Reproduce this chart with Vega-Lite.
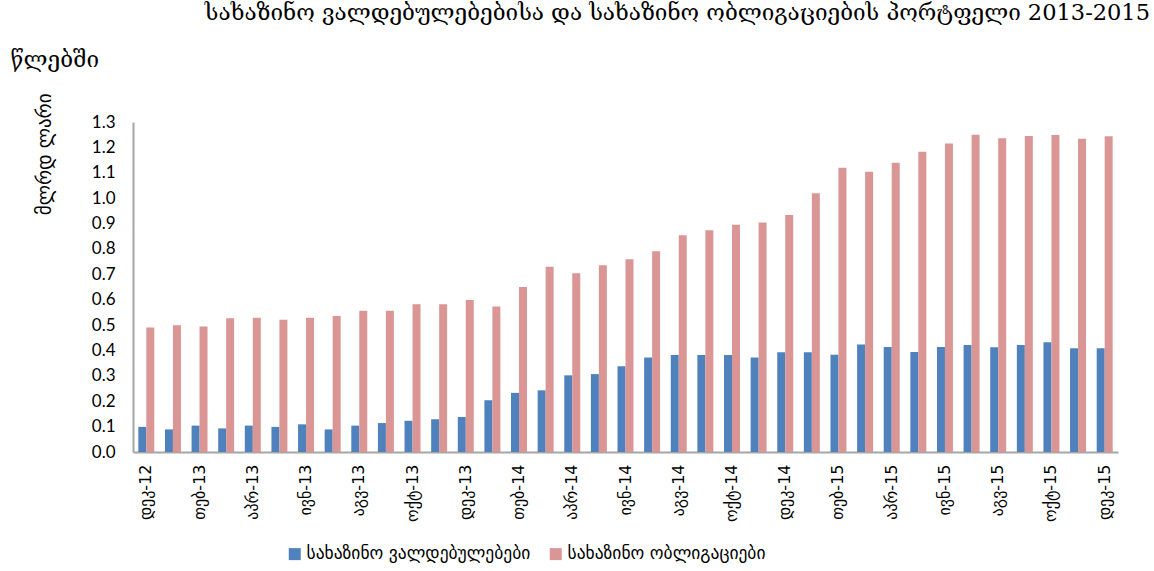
{
  "$schema": "https://vega.github.io/schema/vega-lite/v6.json",
  "autosize": {"type": "none"},
  "width": 985,
  "height": 330,
  "padding": {"left": 133, "top": 122, "right": 36, "bottom": 119},
  "background": "white",
  "view": {"stroke": null},
  "title": {
    "text": "სახაზინო ვალდებულებებისა და სახაზინო ობლიგაციების პორტფელი 2013-2015",
    "anchor": "end",
    "frame": "group",
    "align": "right",
    "dx": 32,
    "dy": -20,
    "font": "DejaVu Serif",
    "fontSize": 22.5,
    "fontWeight": "normal",
    "color": "#000000"
  },
  "data": {
    "values": [
      {"month": "დეკ-12", "series": "სახაზინო ვალდებულებები", "value": 0.099},
      {"month": "დეკ-12", "series": "სახაზინო ობლიგაციები", "value": 0.490},
      {"month": "იან-13", "series": "სახაზინო ვალდებულებები", "value": 0.089},
      {"month": "იან-13", "series": "სახაზინო ობლიგაციები", "value": 0.499},
      {"month": "თებ-13", "series": "სახაზინო ვალდებულებები", "value": 0.104},
      {"month": "თებ-13", "series": "სახაზინო ობლიგაციები", "value": 0.494},
      {"month": "მარ-13", "series": "სახაზინო ვალდებულებები", "value": 0.093},
      {"month": "მარ-13", "series": "სახაზინო ობლიგაციები", "value": 0.527},
      {"month": "აპრ-13", "series": "სახაზინო ვალდებულებები", "value": 0.104},
      {"month": "აპრ-13", "series": "სახაზინო ობლიგაციები", "value": 0.529},
      {"month": "მაი-13", "series": "სახაზინო ვალდებულებები", "value": 0.099},
      {"month": "მაი-13", "series": "სახაზინო ობლიგაციები", "value": 0.521},
      {"month": "ივნ-13", "series": "სახაზინო ვალდებულებები", "value": 0.109},
      {"month": "ივნ-13", "series": "სახაზინო ობლიგაციები", "value": 0.529},
      {"month": "ივლ-13", "series": "სახაზინო ვალდებულებები", "value": 0.089},
      {"month": "ივლ-13", "series": "სახაზინო ობლიგაციები", "value": 0.536},
      {"month": "აგვ-13", "series": "სახაზინო ვალდებულებები", "value": 0.104},
      {"month": "აგვ-13", "series": "სახაზინო ობლიგაციები", "value": 0.556},
      {"month": "სექ-13", "series": "სახაზინო ვალდებულებები", "value": 0.114},
      {"month": "სექ-13", "series": "სახაზინო ობლიგაციები", "value": 0.556},
      {"month": "ოქტ-13", "series": "სახაზინო ვალდებულებები", "value": 0.123},
      {"month": "ოქტ-13", "series": "სახაზინო ობლიგაციები", "value": 0.582},
      {"month": "ნოე-13", "series": "სახაზინო ვალდებულებები", "value": 0.129},
      {"month": "ნოე-13", "series": "სახაზინო ობლიგაციები", "value": 0.582},
      {"month": "დეკ-13", "series": "სახაზინო ვალდებულებები", "value": 0.138},
      {"month": "დეკ-13", "series": "სახაზინო ობლიგაციები", "value": 0.599},
      {"month": "იან-14", "series": "სახაზინო ვალდებულებები", "value": 0.204},
      {"month": "იან-14", "series": "სახაზინო ობლიგაციები", "value": 0.573},
      {"month": "თებ-14", "series": "სახაზინო ვალდებულებები", "value": 0.233},
      {"month": "თებ-14", "series": "სახაზინო ობლიგაციები", "value": 0.650},
      {"month": "მარ-14", "series": "სახაზინო ვალდებულებები", "value": 0.243},
      {"month": "მარ-14", "series": "სახაზინო ობლიგაციები", "value": 0.730},
      {"month": "აპრ-14", "series": "სახაზინო ვალდებულებები", "value": 0.302},
      {"month": "აპრ-14", "series": "სახაზინო ობლიგაციები", "value": 0.704},
      {"month": "მაი-14", "series": "სახაზინო ვალდებულებები", "value": 0.307},
      {"month": "მაი-14", "series": "სახაზინო ობლიგაციები", "value": 0.736},
      {"month": "ივნ-14", "series": "სახაზინო ვალდებულებები", "value": 0.338},
      {"month": "ივნ-14", "series": "სახაზინო ობლიგაციები", "value": 0.759},
      {"month": "ივლ-14", "series": "სახაზინო ვალდებულებები", "value": 0.372},
      {"month": "ივლ-14", "series": "სახაზინო ობლიგაციები", "value": 0.791},
      {"month": "აგვ-14", "series": "სახაზინო ვალდებულებები", "value": 0.382},
      {"month": "აგვ-14", "series": "სახაზინო ობლიგაციები", "value": 0.854},
      {"month": "სექ-14", "series": "სახაზინო ვალდებულებები", "value": 0.382},
      {"month": "სექ-14", "series": "სახაზინო ობლიგაციები", "value": 0.874},
      {"month": "ოქტ-14", "series": "სახაზინო ვალდებულებები", "value": 0.382},
      {"month": "ოქტ-14", "series": "სახაზინო ობლიგაციები", "value": 0.895},
      {"month": "ნოე-14", "series": "სახაზინო ვალდებულებები", "value": 0.372},
      {"month": "ნოე-14", "series": "სახაზინო ობლიგაციები", "value": 0.904},
      {"month": "დეკ-14", "series": "სახაზინო ვალდებულებები", "value": 0.393},
      {"month": "დეკ-14", "series": "სახაზინო ობლიგაციები", "value": 0.934},
      {"month": "იან-15", "series": "სახაზინო ვალდებულებები", "value": 0.393},
      {"month": "იან-15", "series": "სახაზინო ობლიგაციები", "value": 1.019},
      {"month": "თებ-15", "series": "სახაზინო ვალდებულებები", "value": 0.383},
      {"month": "თებ-15", "series": "სახაზინო ობლიგაციები", "value": 1.120},
      {"month": "მარ-15", "series": "სახაზინო ვალდებულებები", "value": 0.423},
      {"month": "მარ-15", "series": "სახაზინო ობლიგაციები", "value": 1.104},
      {"month": "აპრ-15", "series": "სახაზინო ვალდებულებები", "value": 0.414},
      {"month": "აპრ-15", "series": "სახაზინო ობლიგაციები", "value": 1.139},
      {"month": "მაი-15", "series": "სახაზინო ვალდებულებები", "value": 0.394},
      {"month": "მაი-15", "series": "სახაზინო ობლიგაციები", "value": 1.183},
      {"month": "ივნ-15", "series": "სახაზინო ვალდებულებები", "value": 0.414},
      {"month": "ივნ-15", "series": "სახაზინო ობლიგაციები", "value": 1.215},
      {"month": "ივლ-15", "series": "სახაზინო ვალდებულებები", "value": 0.422},
      {"month": "ივლ-15", "series": "სახაზინო ობლიგაციები", "value": 1.250},
      {"month": "აგვ-15", "series": "სახაზინო ვალდებულებები", "value": 0.413},
      {"month": "აგვ-15", "series": "სახაზინო ობლიგაციები", "value": 1.236},
      {"month": "სექ-15", "series": "სახაზინო ვალდებულებები", "value": 0.422},
      {"month": "სექ-15", "series": "სახაზინო ობლიგაციები", "value": 1.245},
      {"month": "ოქტ-15", "series": "სახაზინო ვალდებულებები", "value": 0.432},
      {"month": "ოქტ-15", "series": "სახაზინო ობლიგაციები", "value": 1.249},
      {"month": "ნოე-15", "series": "სახაზინო ვალდებულებები", "value": 0.409},
      {"month": "ნოე-15", "series": "სახაზინო ობლიგაციები", "value": 1.234},
      {"month": "დეკ-15", "series": "სახაზინო ვალდებულებები", "value": 0.409},
      {"month": "დეკ-15", "series": "სახაზინო ობლიგაციები", "value": 1.244}
    ]
  },
  "mark": {"type": "bar"},
  "encoding": {
    "x": {
      "field": "month",
      "type": "nominal",
      "sort": null,
      "scale": {"paddingInner": 0.4, "paddingOuter": 0.2},
      "axis": {
        "title": "წლებში",
        "titleFont": "DejaVu Serif",
        "titleFontSize": 22.5,
        "titleFontWeight": "normal",
        "titleColor": "#000000",
        "titleAngle": 0,
        "titleAlign": "left",
        "titleBaseline": "middle",
        "titleX": -123,
        "titleY": -393,
        "values": ["დეკ-12", "თებ-13", "აპრ-13", "ივნ-13", "აგვ-13", "ოქტ-13", "დეკ-13", "თებ-14", "აპრ-14", "ივნ-14", "აგვ-14", "ოქტ-14", "დეკ-14", "თებ-15", "აპრ-15", "ივნ-15", "აგვ-15", "ოქტ-15", "დეკ-15"],
        "labelAngle": -90,
        "labelAlign": "right",
        "labelBaseline": "middle",
        "labelPadding": 12,
        "labelFont": "DejaVu Sans",
        "labelFontSize": 16,
        "labelColor": "#000000",
        "ticks": false,
        "domainColor": "#A6A6A6",
        "domainWidth": 2,
        "grid": false
      }
    },
    "xOffset": {
      "field": "series",
      "type": "nominal",
      "sort": ["სახაზინო ვალდებულებები", "სახაზინო ობლიგაციები"]
    },
    "y": {
      "field": "value",
      "type": "quantitative",
      "scale": {"domain": [0, 1.3], "nice": false},
      "axis": {
        "title": "მლრდ ლარი",
        "titleFont": "DejaVu Sans",
        "titleFontSize": 19,
        "titleFontWeight": "normal",
        "titleColor": "#000000",
        "titleAngle": -90,
        "titleAlign": "right",
        "titleBaseline": "middle",
        "titleX": -89,
        "titleY": -29,
        "values": [0, 0.1, 0.2, 0.3, 0.4, 0.5, 0.6, 0.7, 0.8, 0.9, 1.0, 1.1, 1.2, 1.3],
        "format": ".1f",
        "labelFont": "Lato",
        "labelFontSize": 17,
        "labelColor": "#000000",
        "labelPadding": 18,
        "ticks": false,
        "grid": false,
        "domainColor": "#A6A6A6",
        "domainWidth": 2
      }
    },
    "color": {
      "field": "series",
      "type": "nominal",
      "sort": ["სახაზინო ვალდებულებები", "სახაზინო ობლიგაციები"],
      "scale": {"range": ["#4F81BD", "#D99694"]},
      "legend": {
        "title": null,
        "orient": "none",
        "direction": "horizontal",
        "legendX": 153,
        "legendY": 423,
        "symbolType": "square",
        "symbolSize": 144,
        "symbolStrokeWidth": 0,
        "symbolOpacity": 1,
        "labelFont": "DejaVu Sans",
        "labelFontSize": 17.5,
        "labelColor": "#000000",
        "labelLimit": 400,
        "labelOffset": 3,
        "columnPadding": 16,
        "symbolOffset": 0
      }
    }
  }
}
